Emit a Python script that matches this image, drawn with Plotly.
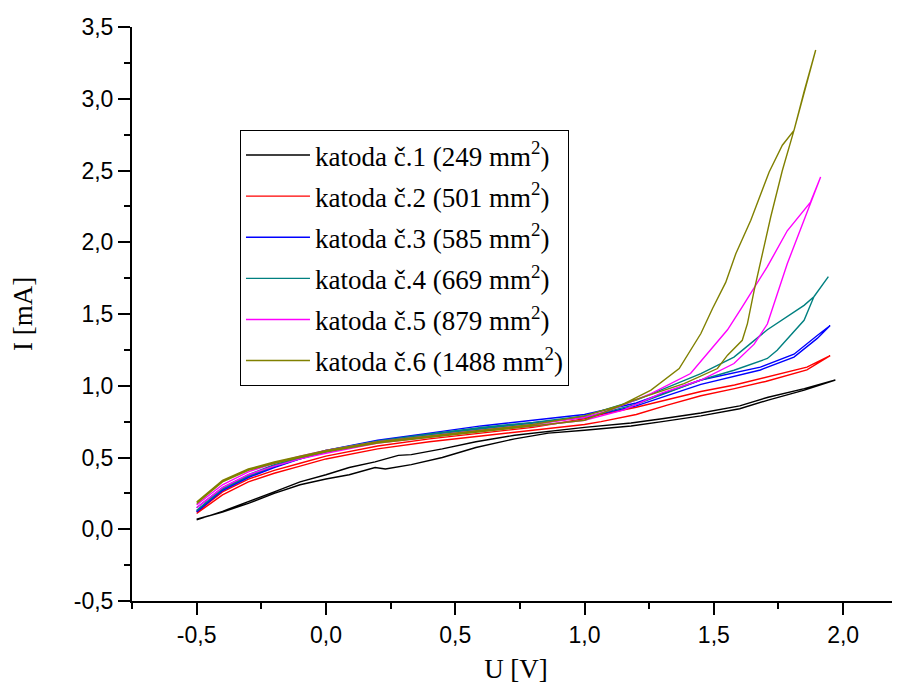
import plotly.graph_objects as go

# ---- data (U [V], I [mA]) : forward sweep followed by backward sweep ----
k1_u = [-0.5, -0.4, -0.3, -0.2, -0.1, 0.0, 0.09, 0.19, 0.23, 0.33, 0.45, 0.58, 0.73, 0.86, 1.0, 1.18, 1.3, 1.45, 1.6, 1.71, 1.85, 1.97,
        1.85, 1.71, 1.6, 1.45, 1.3, 1.18, 1.0, 0.86, 0.73, 0.58, 0.45, 0.33, 0.28, 0.19, 0.09, 0.0, -0.1, -0.2, -0.3, -0.4, -0.5]
k1_i = [0.07, 0.12, 0.18, 0.25, 0.31, 0.35, 0.38, 0.43, 0.42, 0.45, 0.50, 0.57, 0.63, 0.67, 0.69, 0.72, 0.75, 0.79, 0.84, 0.90, 0.97, 1.04,
        0.98, 0.92, 0.86, 0.81, 0.77, 0.74, 0.71, 0.68, 0.655, 0.61, 0.56, 0.52, 0.515, 0.47, 0.43, 0.38, 0.33, 0.26, 0.19, 0.125, 0.065]

k2_u = [-0.5, -0.4, -0.3, -0.2, -0.1, 0.0, 0.2, 0.4, 0.6, 0.8, 1.0, 1.064, 1.2, 1.32, 1.45, 1.58, 1.7, 1.86, 1.95,
        1.86, 1.7, 1.58, 1.45, 1.32, 1.2, 1.064, 1.0, 0.8, 0.6, 0.4, 0.2, 0.0, -0.1, -0.2, -0.3, -0.4, -0.5]
k2_i = [0.11, 0.24, 0.33, 0.39, 0.44, 0.49, 0.56, 0.61, 0.65, 0.69, 0.73, 0.75, 0.80, 0.865, 0.93, 0.98, 1.03, 1.11, 1.21,
        1.13, 1.06, 1.005, 0.96, 0.90, 0.85, 0.80, 0.77, 0.71, 0.67, 0.63, 0.58, 0.51, 0.46, 0.41, 0.35, 0.26, 0.12]

k3_u = [-0.5, -0.4, -0.3, -0.2, -0.1, 0.0, 0.2, 0.4, 0.6, 0.8, 1.0, 1.2, 1.45, 1.68, 1.81, 1.9, 1.95,
        1.9, 1.81, 1.68, 1.45, 1.2, 1.0, 0.8, 0.6, 0.4, 0.2, 0.0, -0.1, -0.2, -0.3, -0.4, -0.5]
k3_i = [0.12, 0.27, 0.36, 0.43, 0.49, 0.54, 0.61, 0.66, 0.70, 0.74, 0.78, 0.86, 1.01, 1.11, 1.20, 1.33, 1.42,
        1.35, 1.22, 1.13, 1.04, 0.88, 0.80, 0.76, 0.72, 0.67, 0.62, 0.55, 0.50, 0.44, 0.37, 0.28, 0.13]

k4_u = [-0.5, -0.4, -0.3, -0.2, -0.1, 0.0, 0.2, 0.4, 0.6, 0.8, 1.0, 1.2, 1.45, 1.578, 1.707, 1.745, 1.849, 1.887, 1.943,
        1.887, 1.849, 1.707, 1.578, 1.45, 1.2, 1.0, 0.8, 0.6, 0.4, 0.2, 0.0, -0.1, -0.2, -0.3, -0.4, -0.5]
k4_i = [0.13, 0.28, 0.37, 0.44, 0.49, 0.54, 0.61, 0.66, 0.70, 0.74, 0.78, 0.87, 1.04, 1.108, 1.19, 1.247, 1.456, 1.62, 1.76,
        1.62, 1.56, 1.39, 1.20, 1.085, 0.90, 0.79, 0.745, 0.71, 0.665, 0.615, 0.55, 0.50, 0.45, 0.38, 0.29, 0.15]

k5_u = [-0.5, -0.4, -0.3, -0.2, -0.1, 0.0, 0.2, 0.4, 0.6, 0.8, 1.0, 1.15, 1.3, 1.45, 1.578, 1.656, 1.707, 1.784, 1.874, 1.913,
        1.874, 1.784, 1.707, 1.61, 1.553, 1.41, 1.257, 1.1, 1.0, 0.8, 0.6, 0.4, 0.2, 0.0, -0.1, -0.2, -0.3, -0.4, -0.5]
k5_i = [0.15, 0.29, 0.38, 0.44, 0.49, 0.53, 0.60, 0.645, 0.685, 0.72, 0.76, 0.83, 0.95, 1.04, 1.155, 1.29, 1.43, 1.85, 2.28, 2.455,
        2.28, 2.08, 1.83, 1.55, 1.39, 1.085, 0.945, 0.83, 0.78, 0.73, 0.69, 0.65, 0.61, 0.55, 0.51, 0.46, 0.40, 0.31, 0.17]

k6_u = [-0.5, -0.4, -0.3, -0.2, -0.1, 0.0, 0.2, 0.4, 0.6, 0.8, 1.0, 1.192, 1.385, 1.514, 1.553, 1.61, 1.63, 1.656, 1.68, 1.72, 1.765, 1.81, 1.849, 1.894,
        1.81, 1.765, 1.714, 1.643, 1.585, 1.546, 1.495, 1.45, 1.366, 1.257, 1.14, 1.0, 0.8, 0.6, 0.4, 0.2, 0.0, -0.1, -0.2, -0.3, -0.4, -0.5]
k6_i = [0.18, 0.33, 0.41, 0.46, 0.50, 0.54, 0.60, 0.64, 0.68, 0.72, 0.76, 0.90, 1.015, 1.12, 1.213, 1.317, 1.433, 1.665, 1.85, 2.176, 2.50, 2.78, 3.05, 3.34,
        2.78, 2.676, 2.49, 2.153, 1.92, 1.72, 1.538, 1.364, 1.12, 0.97, 0.864, 0.79, 0.73, 0.69, 0.65, 0.61, 0.55, 0.51, 0.47, 0.42, 0.34, 0.19]

series_names = [
    "katoda č.1 (249 mm<sup>2</sup>)",
    "katoda č.2 (501 mm<sup>2</sup>)",
    "katoda č.3 (585 mm<sup>2</sup>)",
    "katoda č.4 (669 mm<sup>2</sup>)",
    "katoda č.5 (879 mm<sup>2</sup>)",
    "katoda č.6 (1488 mm<sup>2</sup>)",
]
series_u = [k1_u, k2_u, k3_u, k4_u, k5_u, k6_u]
series_i = [k1_i, k2_i, k3_i, k4_i, k5_i, k6_i]
colors = ["#000000", "#FF0000", "#0000FF", "#008080", "#FF00FF", "#808000"]

x_tickvals = [-0.5, 0.0, 0.5, 1.0, 1.5, 2.0]
x_ticktext = ["-0,5", "0,0", "0,5", "1,0", "1,5", "2,0"]
y_tickvals = [-0.5, 0.0, 0.5, 1.0, 1.5, 2.0, 2.5, 3.0, 3.5]
y_ticktext = ["-0,5", "0,0", "0,5", "1,0", "1,5", "2,0", "2,5", "3,0", "3,5"]

fig = go.Figure()
for k, (name, u, i, c) in enumerate(zip(series_names, series_u, series_i, colors)):
    fig.add_trace(go.Scatter(x=u, y=i, mode="lines", name=name, legendgroup=f"g{k}",
                             line=dict(color=c, width=1.4)))

serif = "Liberation Serif, Times New Roman, serif"
sans = "Liberation Sans, Arial, sans-serif"

# page body has an 8 px default margin, so the figure is 8 px smaller
fig.update_layout(
    width=892, height=681,
    margin=dict(l=124, r=0, t=19, b=88),
    paper_bgcolor="white", plot_bgcolor="white",
    showlegend=True,
    legend=dict(
        x=0.1406, y=0.8206, xanchor="left", yanchor="top",
        font=dict(family=serif, size=27, color="black"),
        bordercolor="black", borderwidth=1, bgcolor="white",
        itemwidth=64, tracegroupgap=3, traceorder="grouped",
    ),
    xaxis=dict(
        range=[-0.75, 2.22], showgrid=False, zeroline=False,
        showline=True, linecolor="black", linewidth=2,
        tickvals=x_tickvals, ticktext=x_ticktext,
        ticks="outside", ticklen=12, tickwidth=2, tickcolor="black",
        tickfont=dict(family=sans, size=23, color="black"),
        minor=dict(tickvals=[-0.75, -0.25, 0.25, 0.75, 1.25, 1.75], ticks="outside", ticklen=6,
                   tickwidth=2, tickcolor="black"),
        title=dict(text="U [V]", font=dict(family=serif, size=27, color="black"), standoff=13),
    ),
    yaxis=dict(
        range=[-0.5, 3.5], showgrid=False, zeroline=False,
        showline=True, linecolor="black", linewidth=2,
        tickvals=y_tickvals, ticktext=y_ticktext,
        ticks="outside", ticklen=12, tickwidth=2, tickcolor="black",
        tickfont=dict(family=sans, size=23, color="black"),
        minor=dict(tickvals=[-0.25, 0.25, 0.75, 1.25, 1.75, 2.25, 2.75, 3.25], ticks="outside", ticklen=6,
                   tickwidth=2, tickcolor="black"),
        title=dict(text="I [mA]", font=dict(family=serif, size=27, color="black"), standoff=38),
    ),
)

fig.write_html("out.html")
